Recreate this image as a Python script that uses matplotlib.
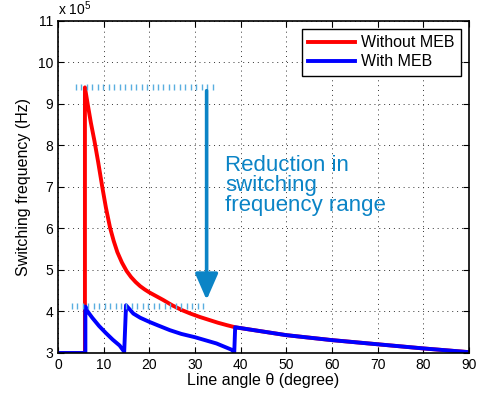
import matplotlib
matplotlib.use('Agg')
import matplotlib.pyplot as plt
import numpy as np

plt.rcParams['font.family'] = ['Liberation Sans', 'DejaVu Sans']
plt.rcParams['mathtext.fontset'] = 'custom'
plt.rcParams['mathtext.rm'] = 'Liberation Sans'

# switching frequency, in units of 1e5 Hz
theta_without = [0, 5.9, 5.9, 6.5, 7.2, 8.0, 8.8, 9.7, 10.5, 11.4, 12.2, 13.0, 14.0,
                 15.0, 16.0, 17.0, 18.0, 19.0, 20.0, 21.5, 23.0, 25.0, 27.0,
                 29.0, 31.0, 33.0, 35.0, 37.0, 38.8,
                 50, 60, 70, 80, 90]
f_without = [3.0, 3.0, 9.4, 9.0, 8.55, 8.1, 7.6, 7.0, 6.5, 6.02, 5.7, 5.43, 5.18,
             4.98, 4.83, 4.71, 4.61, 4.53, 4.46, 4.37, 4.28, 4.15, 4.04,
             3.95, 3.87, 3.8, 3.73, 3.67, 3.62,
             3.43, 3.31, 3.21, 3.11, 3.02]

theta_with = [0, 6.0, 6.0, 6.5, 7.5, 9.0, 10.5, 12.0, 13.5, 14.5,
              14.9, 16.5, 18.0, 20.0, 22.0, 24.5, 27.0, 30.0, 34.7, 38.0, 38.6,
              38.8, 50, 60, 70, 80, 90]
f_with = [3.0, 3.0, 4.12, 4.0, 3.85, 3.65, 3.48, 3.32, 3.18, 3.03,
          4.15, 3.95, 3.85, 3.75, 3.66, 3.55, 3.46, 3.38, 3.23, 3.08, 3.02,
          3.62, 3.43, 3.31, 3.21, 3.11, 3.02]

f_max_without = 9.4
f_max_with = 4.13

fig = plt.figure(figsize=(4.82, 3.96), dpi=100)
ax = fig.add_axes([0.1203, 0.1086, 0.8527, 0.8384])

ax.plot(theta_without, f_without, color='#ff0000', lw=2.8, label='Without MEB')
ax.plot(theta_with, f_with, color='#0000ff', lw=2.8, label='With MEB')

# range markers
ref_col = '#5aaee0'
top_x = np.arange(3.9, 34.8, 1.2)
low_x = np.arange(3.0, 32.4, 1.2)
ax.plot(top_x, [f_max_without] * len(top_x), ls='none', marker='|', ms=4,
        mew=1.0, color=ref_col)
ax.plot(low_x, [f_max_with] * len(low_x), ls='none', marker='|', ms=4,
        mew=1.0, color=ref_col)

arrow_col = '#0b84c6'
ax.annotate('', xy=(32.55, 4.28), xytext=(32.55, 9.32),
            arrowprops=dict(arrowstyle='-|>,head_length=0.8,head_width=0.35',
                            lw=2.6, color=arrow_col, mutation_scale=20,
                            shrinkA=0, shrinkB=0))
ax.text(36.6, 7.78, 'Reduction in\nswitching\nfrequency range', color=arrow_col,
        fontsize=16, va='top', ha='left', linespacing=0.95)

ax.set_xlim(0, 90)
ax.set_ylim(3, 11)
ax.set_xticks(range(0, 91, 10))
ax.set_yticks(range(3, 12))
ax.tick_params(direction='in', length=4, width=0.8, labelsize=10,
               top=True, right=True)
for s in ax.spines.values():
    s.set_linewidth(1.2)
ax.grid(True, color='#333333', ls=(0, (1, 4)), lw=0.7)

ax.set_xlabel('Line angle θ (degree)', fontsize=11.5, labelpad=1)
ax.set_ylabel('Switching frequency (Hz)', fontsize=11.5, labelpad=5)
ax.text(0, 1.008, r'x 10$^{\mathregular{5}}$', transform=ax.transAxes,
        fontsize=10, va='bottom', ha='left')

leg = ax.legend(loc='upper right', fontsize=11.5, handlelength=2.9,
                fancybox=False, edgecolor='black', framealpha=1,
                borderpad=0.4, labelspacing=0.25, handletextpad=0.4,
                borderaxespad=0.5)
leg.get_frame().set_linewidth(1.0)

fig.savefig('out.png', dpi=100)
